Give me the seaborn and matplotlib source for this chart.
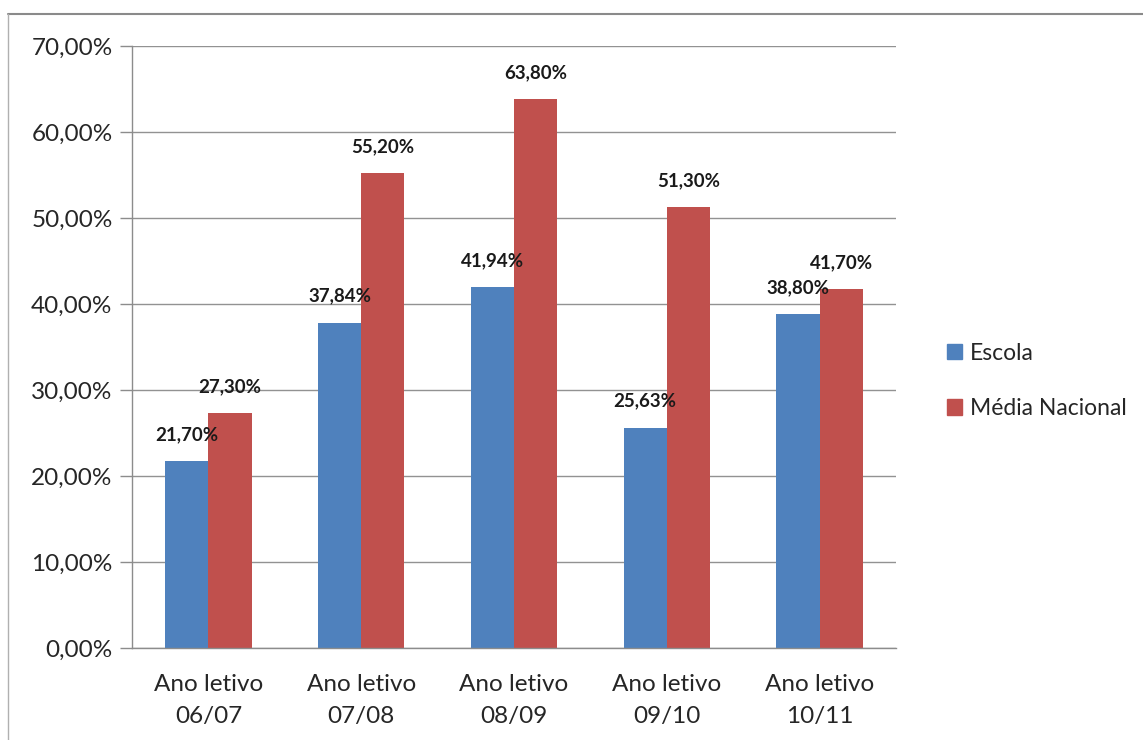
## Import Needed Libraries
from matplotlib import pyplot as plt
from matplotlib.lines import Line2D
from matplotlib.patches import Patch
from matplotlib.ticker import FuncFormatter, FixedLocator
import pandas as pd
import seaborn as sns

## Data
anos = ['Ano letivo\n06/07', 'Ano letivo\n07/08', 'Ano letivo\n08/09',
        'Ano letivo\n09/10', 'Ano letivo\n10/11']
escola = [21.70, 37.84, 41.94, 25.63, 38.80]
media_nacional = [27.30, 55.20, 63.80, 51.30, 41.70]
series = ['Escola', 'Média Nacional']
cores = ['#4F81BD', '#C0504D']

df = pd.DataFrame({'Ano': anos * 2,
                   'Valor': escola + media_nacional,
                   'Serie': [series[0]] * len(anos) + [series[1]] * len(anos)})

## Plot
sns.set_style('white')
plt.rcParams['font.family'] = ['Lato', 'DejaVu Sans']
fig = plt.figure(figsize=(11.43, 7.4), dpi=100)
ax = fig.add_axes([132 / 1143, 1 - 648 / 740, (896 - 132) / 1143, (648 - 46) / 740])

sns.barplot(data=df, x='Ano', y='Valor', hue='Serie', palette=cores,
            width=0.565, gap=0, saturation=1, linewidth=0, ax=ax, legend=False)

fmt = lambda v: f'{v:.2f}'.replace('.', ',') + '%'
for cont in ax.containers:
    ax.bar_label(cont, labels=[fmt(b.get_height()) for b in cont],
                 padding=13, fontsize=13.5, fontweight='bold', color='#1a1a1a')

ax.set_ylim(0, 70)
ax.set_xlim(-0.5, 4.5)
ax.set_yticks(range(0, 71, 10))
ax.yaxis.set_major_formatter(FuncFormatter(lambda v, p: f'{v:.2f}'.replace('.', ',') + '%'))
ax.grid(axis='y', color='#929292', linewidth=1)
ax.set_axisbelow(True)
ax.set_xlabel('')
ax.set_ylabel('')

# category boundary ticks on the x axis
ax.xaxis.set_minor_locator(FixedLocator([i - 0.5 for i in range(len(anos) + 1)]))
ax.tick_params(axis='x', which='major', length=0, labelsize=17.5, pad=19, colors='#262626')
ax.tick_params(axis='x', which='minor', length=7, width=1, color='#8c8c8c', direction='out')
for lbl in ax.get_xticklabels():
    lbl.set_linespacing(1.65)
ax.tick_params(axis='y', length=9, width=1, color='#8c8c8c', labelsize=17.5,
               pad=5, left=True)
ax.tick_params(axis='y', colors='#8c8c8c', labelcolor='#262626')

for s in ['top', 'right']:
    ax.spines[s].set_visible(False)
for s in ['left', 'bottom']:
    ax.spines[s].set_color('#8c8c8c')
    ax.spines[s].set_linewidth(1)

handles = [Patch(color=c, label=s) for c, s in zip(cores, series)]
fig.legend(handles=handles, loc='center left', bbox_to_anchor=(926 / 1143, 1 - 381 / 740),
           frameon=False, fontsize=16.5, handlelength=0.65, handleheight=0.65,
           handletextpad=0.35, labelspacing=1.5, labelcolor='#262626')

# outer chart frame
fig.add_artist(Line2D([8 / 1143, 1], [1 - 14 / 740, 1 - 14 / 740], color='#8a8a8a', lw=1.5))
fig.add_artist(Line2D([8 / 1143, 8 / 1143], [0, 1 - 14 / 740], color='#b0b0b0', lw=1))

fig.savefig('out.png', dpi=100)
